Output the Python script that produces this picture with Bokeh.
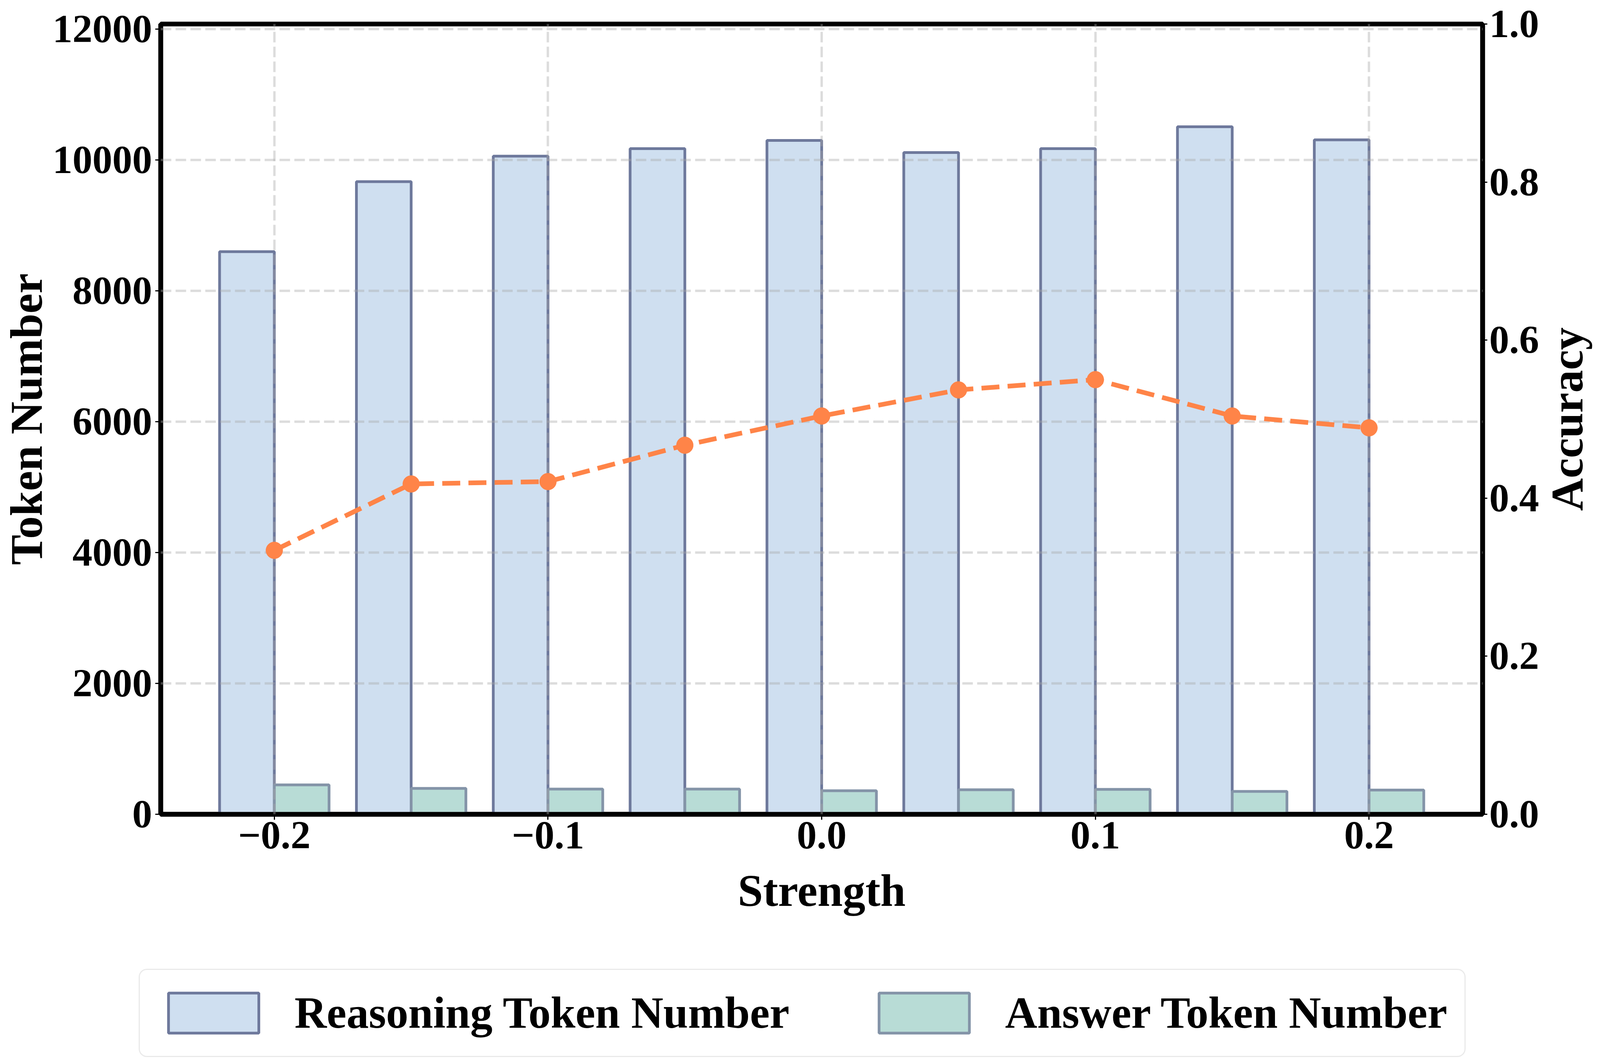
import math
from bokeh.plotting import figure
from bokeh.layouts import column, row
from bokeh.models import (Range1d, LinearAxis, FixedTicker, NumeralTickFormatter,
                          Legend, LegendItem, ColumnDataSource, Label)
from bokeh.embed import file_html
from bokeh.resources import INLINE

# ---------------- data ----------------
strength = [-0.2, -0.15, -0.1, -0.05, 0.0, 0.05, 0.1, 0.15, 0.2]
reasoning_tokens = [8600, 9670, 10060, 10175, 10300, 10115, 10175, 10510, 10310]
answer_tokens = [450, 395, 385, 385, 360, 375, 380, 350, 370]
accuracy = [0.334, 0.418, 0.421, 0.467, 0.504, 0.537, 0.550, 0.504, 0.489]

x_ticks = [-0.2, -0.1, 0.0, 0.1, 0.2]
x_tick_labels = ["\u22120.2", "\u22120.1", "0.0", "0.1", "0.2"]
left_ticks = [0, 2000, 4000, 6000, 8000, 10000, 12000]
right_ticks = [0.0, 0.2, 0.4, 0.6, 0.8, 1.0]

x_label = "Strength"
left_label = "Token Number"
right_label = "Accuracy"
series_names = ["Reasoning Token Number", "Answer Token Number"]

# ---------------- style ----------------
FONT = "Liberation Serif"
BAR_W = 0.02
REASON_FILL, REASON_EDGE = "#cfdff0", "#6e799c"
ANSWER_FILL, ANSWER_EDGE = "#b8dcd6", "#8494a8"
LINE_COLOR = "#ff8448"
W = 4080
W_MAIN = 3943
H_MAIN = 2400
B_LEFT, B_RIGHT, B_TOP, B_BOTTOM = 411, 146, 61, 316

src = ColumnDataSource(dict(
    x=strength,
    xr=[s - BAR_W / 2 for s in strength],
    xa=[s + BAR_W / 2 for s in strength],
    reasoning=reasoning_tokens,
    answer=answer_tokens,
    acc=accuracy,
))

p = figure(width=W_MAIN, height=H_MAIN, output_backend="svg", toolbar_location=None,
           x_range=Range1d(-0.2415, 0.2415), y_range=Range1d(0, 12080),
           min_border_left=B_LEFT, min_border_right=B_RIGHT, min_border_top=B_TOP,
           min_border_bottom=B_BOTTOM)
p.extra_y_ranges = {"acc": Range1d(0, 1.0)}
p.background_fill_color = "white"
p.border_fill_color = "white"
p.outline_line_color = "black"
p.outline_line_width = 12

bar_kw = dict(width=BAR_W, source=src, line_width=7)
r1 = p.vbar(x="xr", top="reasoning", fill_color=REASON_FILL, line_color=REASON_EDGE, **bar_kw)
r2 = p.vbar(x="xa", top="answer", fill_color=ANSWER_FILL, line_color=ANSWER_EDGE, **bar_kw)
p.line(x="x", y="acc", source=src, y_range_name="acc", line_color=LINE_COLOR,
       line_width=12, line_dash="46 21", level="overlay")
p.scatter(x="x", y="acc", source=src, y_range_name="acc", size=43,
          fill_color=LINE_COLOR, line_color=LINE_COLOR, level="overlay")

right_axis = LinearAxis(y_range_name="acc")
p.add_layout(right_axis, "right")


def style_axis(ax):
    ax.axis_line_width = 12
    ax.axis_line_color = "black"
    ax.major_tick_line_width = 3
    ax.major_tick_out = 14
    ax.major_tick_in = 0
    ax.minor_tick_line_color = None
    ax.major_label_text_font = FONT
    ax.major_label_text_font_style = "bold"
    ax.major_label_text_font_size = "102px"
    ax.major_label_text_color = "black"
    ax.major_label_standoff = 10
    ax.axis_label_text_font = FONT
    ax.axis_label_text_font_style = "bold"
    ax.axis_label_text_font_size = "116px"
    ax.axis_label_text_color = "black"
    ax.axis_label_standoff = 0


xaxis = p.xaxis[0]
yaxis = p.yaxis[0]
for ax in (xaxis, yaxis, right_axis):
    style_axis(ax)

xaxis.ticker = FixedTicker(ticks=x_ticks)
xaxis.major_label_overrides = {t: lab for t, lab in zip(x_ticks, x_tick_labels)}
xaxis.axis_label = x_label
xaxis.major_label_standoff = 6
xaxis.axis_label_standoff = 41

yaxis.ticker = FixedTicker(ticks=left_ticks)
yaxis.formatter = NumeralTickFormatter(format="0")
yaxis.axis_label = left_label
yaxis.major_label_standoff = 8

right_axis.ticker = FixedTicker(ticks=right_ticks)
right_axis.formatter = NumeralTickFormatter(format="0.0")
right_axis.major_tick_out = 12
right_axis.major_label_standoff = 5

for g, ticks in ((p.xgrid[0], x_ticks), (p.ygrid[0], left_ticks)):
    g.ticker = FixedTicker(ticks=ticks)
    g.grid_line_color = "#a8a8a8"
    g.grid_line_alpha = 0.4
    g.grid_line_width = 6
    g.grid_line_dash = "27 11"
    g.level = "annotation"

# ---- right-hand strip carrying the "Accuracy" axis title ----
W_SIDE = W - W_MAIN
p3 = figure(width=W_SIDE, height=H_MAIN, output_backend="svg", toolbar_location=None,
            x_axis_type=None, y_axis_type=None,
            min_border_left=0, min_border_right=0, min_border_top=B_TOP,
            min_border_bottom=B_BOTTOM,
            x_range=Range1d(0, W_SIDE), y_range=Range1d(0, 1))
p3.outline_line_color = None
p3.background_fill_color = "white"
p3.border_fill_color = "white"
p3.add_layout(Label(x=68, y=0.5, text=right_label, angle=math.pi / 2,
                    text_align="center", text_baseline="middle",
                    text_font=FONT, text_font_style="bold", text_font_size="116px",
                    text_color="black"))

# ---- legend strip below the chart ----
p2 = figure(width=W, height=311, output_backend="svg", toolbar_location=None,
            x_axis_type=None, y_axis_type=None,
            min_border_left=355, min_border_right=0, min_border_top=0,
            min_border_bottom=0,
            x_range=Range1d(0, 1), y_range=Range1d(0, 1))
p2.outline_line_color = None
p2.background_fill_color = "white"
p2.border_fill_color = "white"
l1 = p2.vbar(x="xr", top="reasoning", fill_color=REASON_FILL, line_color=REASON_EDGE,
             visible=False, **bar_kw)
l2 = p2.vbar(x="xa", top="answer", fill_color=ANSWER_FILL, line_color=ANSWER_EDGE,
             visible=False, **bar_kw)

legend = Legend(items=[LegendItem(label=series_names[0], renderers=[l1]),
                       LegendItem(label=series_names[1], renderers=[l2])],
                orientation="horizontal", location=(0, 5))
legend.label_text_font = FONT
legend.label_text_font_style = "bold"
legend.label_text_font_size = "114px"
legend.label_text_color = "black"
legend.glyph_width = 289
legend.glyph_height = 128
legend.label_standoff = 63
legend.spacing = 200
legend.padding = 44
legend.border_line_color = "#d6d6d6"
legend.border_line_width = 3
legend.background_fill_color = "white"
legend.background_fill_alpha = 1.0
legend.inactive_fill_alpha = 0.0
try:
    legend.border_radius = 21
except Exception:
    pass
p2.add_layout(legend, "center")

open("out.html", "w").write(file_html(column(row(p, p3), p2), INLINE))
